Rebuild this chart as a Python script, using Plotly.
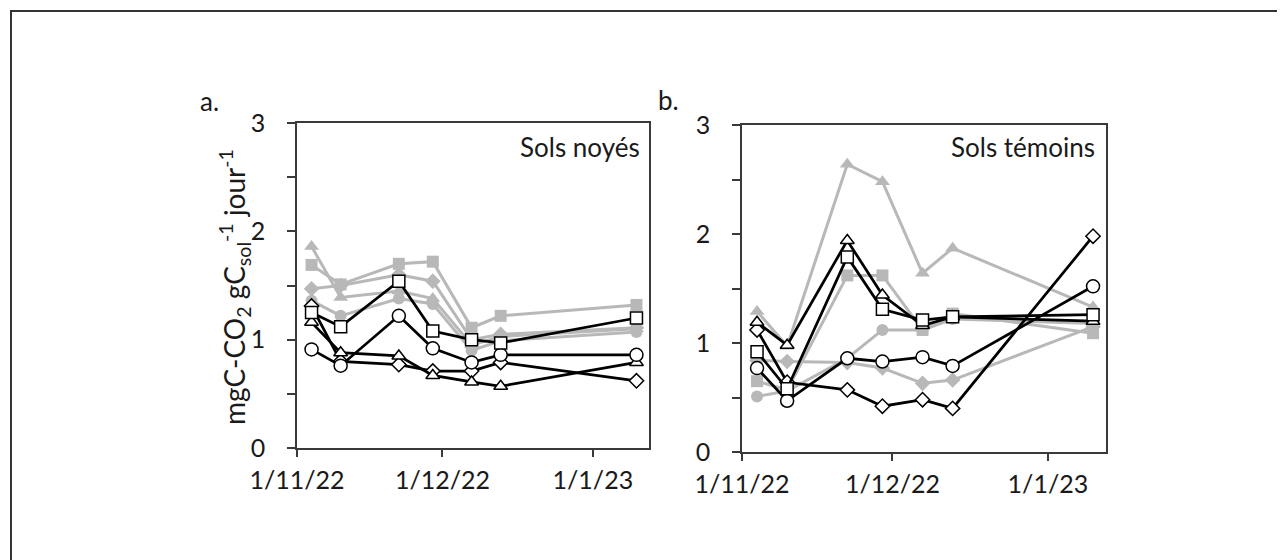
import plotly.graph_objects as go

dates = ["2022-11-04", "2022-11-10", "2022-11-22", "2022-11-29",
         "2022-12-07", "2022-12-13", "2023-01-10"]

# Panel a: Sols noyés
a_black_circle = [0.91, 0.76, 1.22, 0.92, 0.79, 0.86, 0.86]
a_black_square = [1.25, 1.12, 1.54, 1.08, 1.00, 0.97, 1.20]
a_black_triangle = [1.16, 0.88, 0.85, 0.67, 0.61, 0.57, 0.79]
a_black_diamond = [1.31, 0.80, 0.77, 0.71, 0.71, 0.79, 0.62]
a_gray_square = [1.69, 1.51, 1.70, 1.72, 1.11, 1.22, 1.32]
a_gray_diamond = [1.47, 1.50, 1.60, 1.54, 1.00, 1.05, 1.11]
a_gray_triangle = [1.86, 1.39, 1.45, 1.38, 0.95, 1.03, 1.10]
a_gray_circle = [1.36, 1.22, 1.38, 1.33, 0.90, 0.99, 1.07]

# Panel b: Sols témoins
b_black_circle = [0.77, 0.47, 0.86, 0.83, 0.87, 0.79, 1.52]
b_black_square = [0.92, 0.58, 1.79, 1.31, 1.21, 1.24, 1.26]
b_black_triangle = [1.19, 0.98, 1.94, 1.44, 1.16, 1.24, 1.20]
b_black_diamond = [1.12, 0.64, 0.57, 0.42, 0.48, 0.40, 1.98]
b_gray_square = [0.65, 0.57, 1.62, 1.62, 1.12, 1.27, 1.09]
b_gray_diamond = [0.84, 0.83, 0.82, 0.77, 0.63, 0.66, 1.15]
b_gray_triangle = [1.29, 0.97, 2.64, 2.48, 1.64, 1.87, 1.33]
b_gray_circle = [0.51, 0.56, 0.86, 1.12, 1.12, 1.22, 1.18]

xtick_vals = ["2022-11-01", "2022-12-01", "2023-01-01"]
xtick_text = ["1/11/22", "1/12/22", "1/1/23"]
ytick_vals = [0, 1, 2, 3]

BLACK = "#000000"
GRAY = "#b8b8b8"
AXIS = "#3a3a3a"
TXT = "#1a1a1a"
FONT = "Lato"

fig = go.Figure()

def add_gray(y, symbol, xa, ya, size=12):
    fig.add_trace(go.Scatter(
        x=dates, y=y, mode="lines+markers", xaxis=xa, yaxis=ya,
        line=dict(color=GRAY, width=3),
        marker=dict(symbol=symbol, size=size, color=GRAY, line=dict(width=0)),
        showlegend=False, hoverinfo="skip"))

def add_black(y, symbol, xa, ya, size=12):
    fig.add_trace(go.Scatter(
        x=dates, y=y, mode="lines+markers", xaxis=xa, yaxis=ya,
        line=dict(color=BLACK, width=2.75),
        marker=dict(symbol=symbol, size=size, color="white",
                    line=dict(color=BLACK, width=1.5)),
        showlegend=False, hoverinfo="skip"))

for xa, ya, gs, gd, gt, gc, bc, bs, bt, bd in [
    ("x", "y", a_gray_square, a_gray_diamond, a_gray_triangle, a_gray_circle,
     a_black_circle, a_black_square, a_black_triangle, a_black_diamond),
    ("x2", "y2", b_gray_square, b_gray_diamond, b_gray_triangle, b_gray_circle,
     b_black_circle, b_black_square, b_black_triangle, b_black_diamond),
]:
    add_gray(gc, "circle", xa, ya, 12)
    add_gray(gd, "diamond", xa, ya, 12)
    add_gray(gt, "triangle-up", xa, ya, 13)
    add_gray(gs, "square", xa, ya, 12)
    add_black(bd, "diamond", xa, ya, size=11)
    add_black(bt, "triangle-up", xa, ya, 12)
    add_black(bc, "circle", xa, ya, size=13)
    add_black(bs, "square", xa, ya, 12)

W, H = 1285, 560
OX, OY = 7, 8  # page offset of the figure in the browser

def px(x):
    return (x - OX) / W

def py(y):
    return 1 - (y - OY) / H

def xaxis(domain):
    return dict(domain=domain, type="date",
                range=["2022-11-01", "2023-01-12 14:00"],
                tickvals=xtick_vals, ticktext=xtick_text,
                showline=True, linecolor=AXIS, linewidth=1.5, mirror=True,
                ticks="outside", ticklen=7, tickwidth=1.5, tickcolor=AXIS,
                showgrid=False, zeroline=False, automargin=False,
                ticklabelstandoff=2,
                tickfont=dict(family=FONT, size=25, color=TXT))

def yaxis(domain, anchor):
    return dict(domain=domain, anchor=anchor, range=[0, 3],
                tickvals=ytick_vals,
                showline=True, linecolor=AXIS, linewidth=1.5, mirror=True,
                ticks="outside", ticklen=8, tickwidth=1.5, tickcolor=AXIS,
                minor=dict(dtick=0.5, tick0=0, ticks="outside", ticklen=8,
                           tickwidth=1.5, tickcolor=AXIS, showgrid=False),
                showgrid=False, zeroline=False, automargin=False,
                ticklabelstandoff=17,
                tickfont=dict(family=FONT, size=25, color=TXT))

fig.update_layout(
    width=W, height=H, autosize=False,
    margin=dict(l=0, r=0, t=0, b=0, pad=0, autoexpand=False),
    paper_bgcolor="white", plot_bgcolor="white",
    xaxis=dict(xaxis([px(296), px(648)]), anchor="y"),
    yaxis=yaxis([py(448), py(123)], "x"),
    xaxis2=dict(xaxis([px(741), px(1105)]), anchor="y2"),
    yaxis2=yaxis([py(452), py(125)], "x2"),
    font=dict(family=FONT, color=TXT),
)

annotations = [
    dict(text="mgC-CO<sub>2</sub> gC<sub>sol</sub><sup>-1</sup> jour<sup>-1</sup>",
         x=px(233), y=py(287), textangle=-90, font=dict(size=28)),
    dict(text="a.", x=px(208), y=py(101), font=dict(size=26)),
    dict(text="b.", x=px(668), y=py(100), font=dict(size=26)),
    dict(text="Sols noyés", x=px(641), y=py(147), xanchor="right",
         font=dict(size=26)),
    dict(text="Sols témoins", x=px(1096), y=py(147), xanchor="right",
         font=dict(size=26)),
]
for a in annotations:
    a.setdefault("xanchor", "center")
    a.update(xref="paper", yref="paper", yanchor="middle", showarrow=False)
    a["font"]["family"] = FONT
    a["font"]["color"] = TXT
fig.update_layout(annotations=annotations)

# outer frame (left and top edges visible)
fig.add_shape(type="rect", xref="paper", yref="paper",
              x0=px(10), x1=1.05, y0=-0.05, y1=py(11),
              line=dict(color="#333333", width=2))

fig.write_html("out.html")
